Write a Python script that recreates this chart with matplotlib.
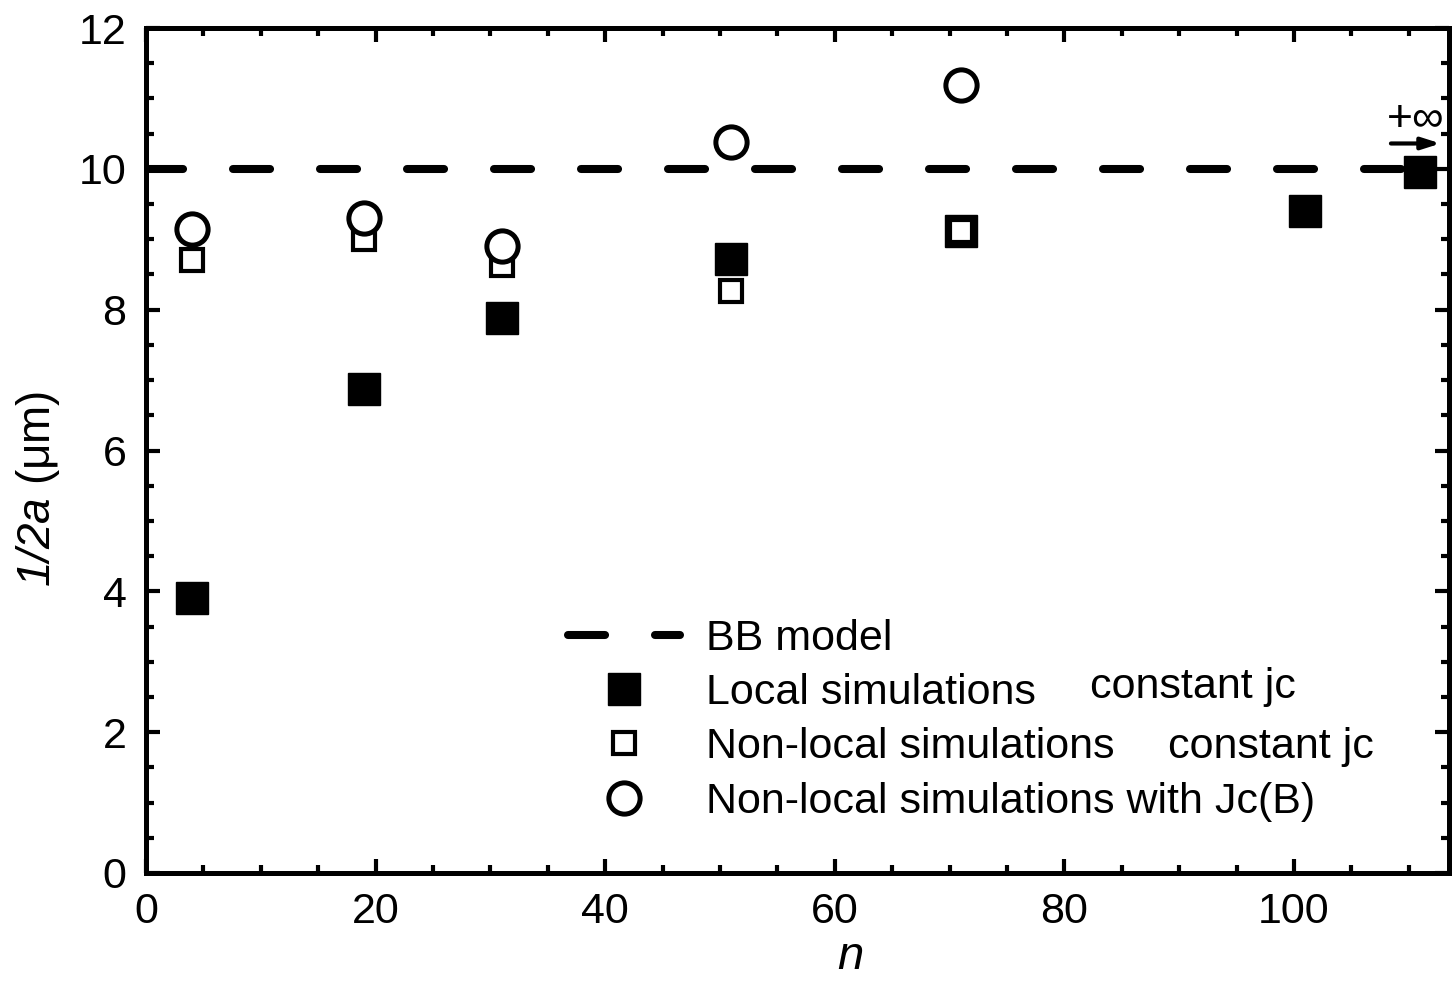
import numpy as np
import matplotlib
matplotlib.use("Agg")
import matplotlib.pyplot as plt
from matplotlib.ticker import MultipleLocator
from matplotlib.lines import Line2D

plt.rcParams['font.family'] = ['Liberation Sans', 'DejaVu Sans']
plt.rcParams['mathtext.fontset'] = 'custom'
plt.rcParams['mathtext.it'] = 'Liberation Sans:italic'
plt.rcParams['mathtext.rm'] = 'Liberation Sans:italic'  # digits in labels italic too

# data
bb_level = 10.0
n_local = [4, 19, 31, 51, 71, 101, 111]
a_local = [3.9, 6.88, 7.88, 8.72, 9.12, 9.4, 9.95]
n_nonlocal = [4, 19, 31, 51, 71]
a_nonlocal = [8.71, 9.0, 8.63, 8.27, 9.12]
n_jcb = [4, 19, 31, 51, 71]
a_jcb = [9.15, 9.3, 8.9, 10.38, 11.19]

fig = plt.figure(figsize=(14.56, 9.81), dpi=100)
ax = fig.add_axes([146/1456, 1-873/981, (1449-146)/1456, (873-28)/981])

ax.axhline(bb_level, color="black", lw=5.8, dashes=(4.6, 6.2),
           dash_capstyle="round", zorder=1)
ax.plot(n_local, a_local, ls="none", marker="s", ms=23, mfc="black",
        mec="black", mew=1, zorder=2)
ax.plot(n_nonlocal, a_nonlocal, ls="none", marker="s", ms=15.5, mfc="white",
        mec="black", mew=3, zorder=3)
ax.plot(n_jcb, a_jcb, ls="none", marker="o", ms=22.5, mfc="white",
        mec="black", mew=3.6, zorder=4)

# +inf arrow near the last point
ax.annotate("", xy=(113.0, 10.36), xytext=(108.2, 10.36),
            arrowprops=dict(arrowstyle="-|>,head_length=1.1,head_width=0.35",
                            color="black", lw=3), annotation_clip=False)
ax.text(110.6, 10.7, "+∞", fontsize=32, ha="center", va="center")

ax.set_xlim(0, 113.5)
ax.set_ylim(0, 12)
ax.xaxis.set_major_locator(MultipleLocator(20))
ax.xaxis.set_minor_locator(MultipleLocator(5))
ax.yaxis.set_major_locator(MultipleLocator(2))
ax.yaxis.set_minor_locator(MultipleLocator(0.5))
ax.tick_params(which="both", direction="in", top=True, right=True,
               labelsize=31, width=3, pad=14)
ax.tick_params(which="major", length=10)
ax.tick_params(which="minor", length=6)
for s in ax.spines.values():
    s.set_linewidth(3.6)

ax.set_xlabel("n", fontsize=34, style="italic")
ax.xaxis.label.set_va("baseline")
ax.set_ylabel("$1/2a$ (μm)", fontsize=33)
ax.xaxis.set_label_coords((850-146)/1303, -(969-873)/845)
ax.yaxis.set_label_coords(-(146-62)/1303, (873-489)/845)

handles = [
    Line2D([], [], color="black", lw=5.8, dashes=(4.6, 6.2), dash_capstyle="round"),
    Line2D([], [], ls="none", marker="s", ms=23, mfc="black", mec="black", mew=1),
    Line2D([], [], ls="none", marker="s", ms=15.5, mfc="white", mec="black", mew=3),
    Line2D([], [], ls="none", marker="o", ms=22.5, mfc="white", mec="black", mew=3.6),
]
labels = ["BB model", "Local simulations", "Non-local simulations",
          "Non-local simulations with Jc(B)"]
leg = ax.legend(handles, labels, loc="upper left", frameon=False, fontsize=31,
                bbox_to_anchor=(568/1456, 1-619/981), bbox_transform=fig.transFigure,
                handlelength=2.6, handletextpad=0.6, labelspacing=0.33,
                borderpad=0, borderaxespad=0)

fig.text(1090/1456, 1-687/981, "constant jc", fontsize=31, va="center")
fig.text(1168/1456, 1-747/981, "constant jc", fontsize=31, va="center")

fig.savefig("out.png", dpi=100)
